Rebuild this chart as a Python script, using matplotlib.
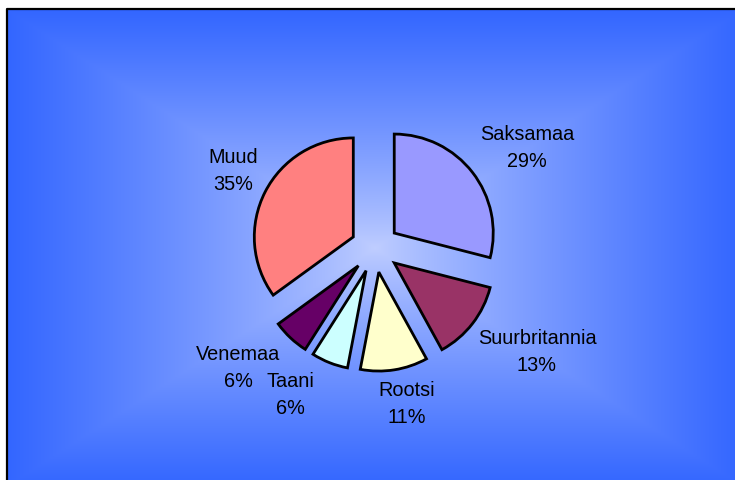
import numpy as np
import matplotlib
matplotlib.use("Agg")
import matplotlib.pyplot as plt

# Export shares by country (%)
countries = ["Saksamaa", "Suurbritannia", "Rootsi", "Taani", "Venemaa", "Muud"]
shares = [29, 13, 11, 6, 6, 35]
colors = ["#9999FF", "#993366", "#FFFFCC", "#CCFFFF", "#660066", "#FF8080"]

# label anchor points in pie units (radius = 1)
label_pos = [(1.535, 1.01), (1.636, -1.05), (0.323, -1.576),
             (-0.859, -1.485), (-1.384, -1.212), (-1.434, 0.778)]

W, H = 735, 480
plt.rcParams["font.family"] = ["Liberation Sans", "DejaVu Sans"]

fig = plt.figure(figsize=(W / 100, H / 100), dpi=100)
fig.patch.set_facecolor("white")

# background: rectangular "from centre" gradient, pixel coordinates
bg = fig.add_axes([0, 0, 1, 1])
bg.set_xlim(0, W)
bg.set_ylim(H, 0)
bg.axis("off")
x0, y0, x1, y1 = 7, 9, 745, 490
cx, cy = 375, 248
xs = np.linspace(x0, x1, 400)
ys = np.linspace(y0, y1, 300)
X, Y = np.meshgrid(xs, ys)
t = np.maximum(np.abs(X - cx) / (cx - x0), np.abs(Y - cy) / (cy - y0))
t = np.clip(t, 0, 1) ** 0.85
inner = np.array([192, 206, 255]) / 255
outer = np.array([51, 102, 255]) / 255
img = inner[None, None, :] * (1 - t[..., None]) + outer[None, None, :] * t[..., None]
bg.imshow(img, extent=(x0, x1, y1, y0), aspect="auto", interpolation="bilinear")
bg.plot([x0, x0, x1], [y1, y0, y0], color="black", lw=1.6, solid_capstyle="butt")

# pie axes: centre at (375, 248) px, radius 99 px
r_px = 99
a, b = 2.5, 2.2
ax = fig.add_axes([(cx - a * r_px) / W, (H - cy - b * r_px) / H,
                   2 * a * r_px / W, 2 * b * r_px / H])
ax.pie(shares, colors=colors, startangle=90, counterclock=False,
       explode=[0.246] * len(shares), radius=1,
       wedgeprops=dict(edgecolor="black", linewidth=2.0, joinstyle="miter"))
ax.set_xlim(-a, a)
ax.set_ylim(-b, b)
ax.set_aspect("equal", adjustable="box")
ax.axis("off")

# two lines per label, 27 px apart
half = 13.5 / r_px
for name, val, (lx, ly) in zip(countries, shares, label_pos):
    ax.text(lx, ly + half, name, ha="center", va="center",
            fontsize=14.3, color="black")
    ax.text(lx, ly - half, f"{val}%", ha="center", va="center",
            fontsize=14.3, color="black")

fig.savefig("out.png", dpi=100)
